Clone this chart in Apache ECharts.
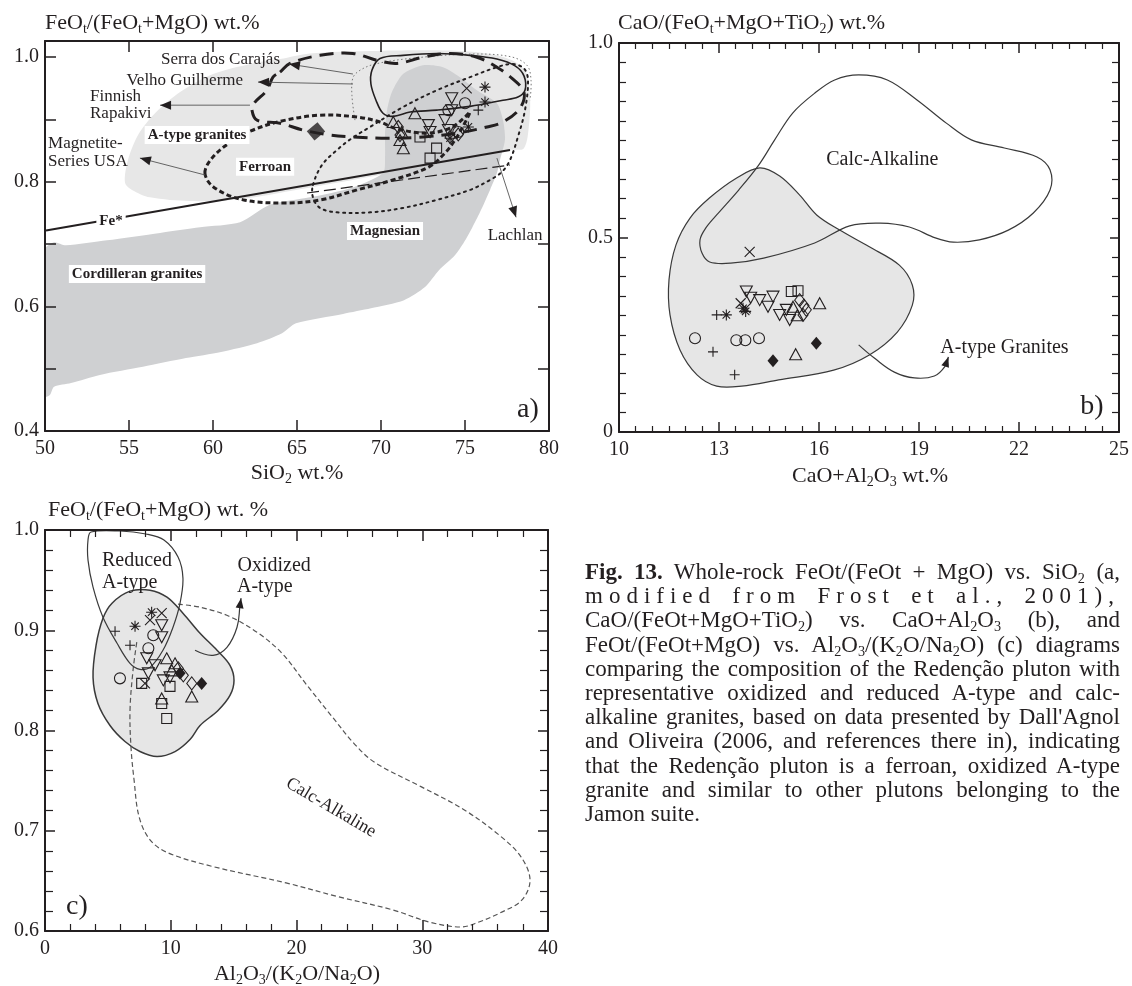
<!DOCTYPE html>
<html>
<head>
<meta charset="utf-8">
<title>Fig. 13</title>
<script src="https://cdn.jsdelivr.net/npm/echarts@6/dist/echarts.min.js"></script>
<style>
  html, body { margin: 0; padding: 0; background: #fff; }
  #chart { position: absolute; left: 0; top: 0; width: 1132px; height: 986px; }
  #caption { position: absolute; left: 585px; top: 560px; width: 535px;
    font-family: 'Liberation Serif', 'Times New Roman', serif; font-size: 23px;
    line-height: 24.2px; color: #231f20; }
  #caption .j { text-align: justify; text-align-last: justify; }
  #caption .wide { letter-spacing: 6px; }
  #caption sub { font-size: 0.62em; line-height: 0; vertical-align: -0.28em; }
</style>
</head>
<body>
<div id="chart"></div>
<div id="caption">
  <div class="j"><b>Fig. 13.</b> Whole-rock FeOt/(FeOt + MgO) vs. SiO<sub>2</sub> (a,</div>
  <div class="j wide">modified from Frost et al., 2001),</div>
  <div class="j">CaO/(FeOt+MgO+TiO<sub>2</sub>) vs. CaO+Al<sub>2</sub>O<sub>3</sub> (b), and</div>
  <div class="j">FeOt/(FeOt+MgO) vs. Al<sub>2</sub>O<sub>3</sub>/(K<sub>2</sub>O/Na<sub>2</sub>O) (c) diagrams</div>
  <div class="j">comparing the composition of the Redenção pluton with</div>
  <div class="j">representative oxidized and reduced A-type and calc-</div>
  <div class="j">alkaline granites, based on data presented by Dall'Agnol</div>
  <div class="j">and Oliveira (2006, and references there in), indicating</div>
  <div class="j">that the Redenção pluton is a ferroan, oxidized A-type</div>
  <div class="j">granite and similar to other plutons belonging to the</div>
  <div>Jamon suite.</div>
</div>
<script>
const FONT = "'Liberation Serif', 'Times New Roman', serif";
const INK = '#231f20';

// ---------- a) FeOt/(FeOt+MgO) vs SiO2 ----------
const aAtypeGranites = [[54.76,0.799],[54.94,0.835],[55.54,0.875],[56.55,0.910],[58.04,0.944],[60.00,0.973],[62.38,0.990],[63.99,0.997],[65.77,1.006],[69.35,1.010],[73.33,1.011],[76.31,1.006],[77.80,0.995],[78.63,0.976],[78.87,0.939],[78.81,0.891],[78.51,0.854],[77.68,0.851],[71.13,0.817],[65.18,0.788],[61.61,0.772],[58.63,0.769],[56.25,0.775],[55.18,0.787]];
const aCordilleran = [[50.06,0.695],[50.54,0.703],[51.25,0.698],[53.69,0.706],[56.85,0.718],[59.23,0.727],[61.61,0.735],[63.39,0.763],[65.77,0.775],[68.33,0.791],[70.12,0.814],[70.24,0.840],[70.24,0.878],[70.36,0.915],[70.65,0.944],[71.31,0.973],[72.50,0.987],[73.69,0.984],[74.70,0.968],[75.71,0.947],[76.90,0.926],[77.26,0.899],[77.38,0.868],[77.08,0.835],[76.90,0.814],[76.49,0.787],[75.89,0.751],[75.42,0.726],[74.94,0.703],[74.40,0.682],[73.45,0.658],[72.62,0.631],[71.37,0.610],[69.40,0.597],[67.74,0.588],[64.94,0.573],[64.11,0.557],[62.62,0.541],[60.48,0.527],[58.39,0.517],[55.83,0.503],[53.27,0.490],[51.55,0.477],[50.54,0.471],[50.30,0.458],[50.00,0.455],[50.00,0.690]];
const aFeStar = [[50.06,0.722],[77.68,0.851]];
const aFeStarLower = [[65.60,0.782],[77.68,0.827]];
const aVelhoGuilherme = [[63.99,0.976],[64.58,0.990],[66.37,1.003],[68.33,1.006],[69.76,0.995],[70.95,0.990],[72.50,1.000],[74.11,1.006],[75.71,1.000],[76.90,0.984],[77.80,0.966],[78.51,0.944],[78.27,0.918],[77.26,0.896],[76.31,0.888],[74.52,0.878],[72.50,0.872],[70.36,0.870],[68.33,0.872],[66.96,0.875],[65.36,0.883],[63.99,0.894],[62.62,0.899],[62.32,0.915],[62.44,0.926],[63.21,0.947],[63.57,0.968]];
const aCarajas = [[69.46,0.979],[69.94,0.998],[71.31,1.003],[73.33,1.006],[75.30,1.003],[76.90,0.997],[77.98,0.986],[78.51,0.970],[78.57,0.947],[78.15,0.936],[77.26,0.931],[75.30,0.921],[73.33,0.915],[71.73,0.912],[70.71,0.905],[70.12,0.910],[69.70,0.931],[69.40,0.957]];
const aCarajasOuter = [[68.45,0.899],[68.27,0.939],[68.33,0.967],[68.75,0.979],[69.64,0.989],[71.73,0.998],[75.30,1.005],[77.68,1.001],[78.69,0.987],[78.93,0.963],[78.87,0.931]];
const aLachlan = [[65.95,0.795],[66.49,0.827],[67.38,0.851],[68.27,0.870],[69.35,0.888],[71.31,0.920],[73.33,0.947],[75.30,0.968],[76.90,0.984],[77.80,0.989],[78.51,0.982],[78.75,0.963],[78.57,0.915],[78.15,0.872],[77.68,0.835],[77.20,0.816],[76.49,0.803],[75.30,0.787],[73.33,0.771],[71.31,0.758],[69.35,0.751],[67.38,0.751],[66.37,0.758],[65.95,0.775]];
const aMagnetiteSeries = [[59.52,0.814],[59.94,0.838],[60.95,0.862],[62.20,0.881],[63.99,0.897],[66.37,0.907],[68.57,0.904],[69.94,0.896],[70.83,0.886],[72.62,0.878],[74.11,0.886],[75.00,0.904],[75.30,0.912],[74.82,0.886],[74.40,0.867],[73.87,0.848],[72.86,0.824],[70.71,0.803],[68.57,0.787],[66.43,0.771],[64.35,0.766],[61.79,0.771],[60.06,0.791]];
const aLeaders = [
  [[68.33,0.973],[64.52,0.989]],
  [[68.33,0.957],[62.68,0.960]],
  [[62.20,0.923],[56.85,0.923]],
  [[59.52,0.811],[55.65,0.838]],
  [[76.90,0.838],[78.04,0.743]]
];
const aLabels = [
  ['Serra dos Carajás', 63.99, 0.997],
  ['Velho Guilherme', 61.79, 0.963],
  ['Finnish', 52.68, 0.937],
  ['Rapakivi', 52.68, 0.909],
  ['A-type granites', 59.05, 0.875],
  ['Magnetite-', 50.18, 0.862],
  ['Series USA', 50.18, 0.833],
  ['Fe*', 53.93, 0.737],
  ['Ferroan', 63.10, 0.824],
  ['Magnesian', 70.24, 0.721],
  ['Lachlan', 77.98, 0.713],
  ['Cordilleran granites', 55.48, 0.652],
  ['a)', 78.75, 0.435]
];
const aTriangleUp = [[70.73,0.896],[72.02,0.910],[71.23,0.880],[71.13,0.867],[71.33,0.854]];
const aTriangleDown = [[72.82,0.891],[72.92,0.880],[74.21,0.934],[74.21,0.915],[73.81,0.899],[74.01,0.883]];
const aSquare = [[72.32,0.872],[73.31,0.854],[72.92,0.838]];
const aCircle = [[74.01,0.915],[75.00,0.926],[74.60,0.880]];
const aDiamond = [[71.03,0.888],[71.13,0.875],[74.11,0.872],[74.60,0.876]];
const aCross = [[75.10,0.950]];
const aStar = [[76.19,0.952],[76.19,0.928],[75.20,0.888],[74.11,0.870]];
const aPlus = [[75.79,0.915]];
const aBlackDiamond = [[66.13,0.881]];

// ---------- b) CaO/(FeOt+MgO+TiO2) vs CaO+Al2O3 ----------
const bCalcAlkaline = [[17.19,0.918],[18.05,0.905],[18.95,0.853],[19.82,0.794],[20.57,0.751],[21.56,0.730],[22.54,0.707],[22.93,0.674],[22.93,0.622],[22.43,0.563],[21.68,0.519],[20.81,0.494],[20.03,0.488],[19.49,0.499],[18.71,0.527],[17.84,0.537],[16.92,0.530],[15.87,0.486],[14.34,0.447],[13.35,0.434],[12.72,0.437],[12.49,0.460],[12.43,0.494],[12.60,0.524],[12.93,0.558],[13.59,0.622],[14.19,0.686],[14.67,0.751],[15.21,0.820],[15.87,0.871],[16.47,0.905]];
const bAtypeGranites = [[14.22,0.679],[14.82,0.658],[15.42,0.609],[15.93,0.558],[16.62,0.519],[17.51,0.476],[18.41,0.429],[18.80,0.378],[18.80,0.326],[18.35,0.257],[17.51,0.198],[16.44,0.159],[14.79,0.134],[13.68,0.118],[12.93,0.118],[12.34,0.147],[11.83,0.211],[11.53,0.301],[11.50,0.391],[11.71,0.481],[12.13,0.550],[12.72,0.602],[13.53,0.653]];
const bArrow = [[17.19,0.224],[17.66,0.190],[18.26,0.154],[18.86,0.139],[19.46,0.144],[19.79,0.170],[19.88,0.193]];
const bLabels = [
  ['Calc-Alkaline', 17.90, 0.699],
  ['A-type Granites', 19.64, 0.216],
  ['b)', 24.19, 0.064]
];
const bCross = [[13.92,0.463],[13.65,0.331],[13.80,0.318]];
const bPlus = [[12.93,0.301],[12.82,0.206],[13.47,0.147]];
const bStar = [[13.22,0.301],[13.72,0.318],[13.80,0.310]];
const bCircle = [[12.28,0.241],[13.52,0.236],[13.79,0.236],[14.20,0.241]];
const bBlackDiamond = [[14.62,0.183],[15.92,0.228]];
const bTriangleUp = [[15.30,0.200],[16.02,0.331],[15.22,0.322],[15.35,0.300]];
const bTriangleDown = [[13.82,0.361],[14.22,0.339],[14.62,0.348],[14.47,0.322],[14.82,0.301],[15.12,0.288],[15.02,0.314],[13.95,0.345]];
const bSquare = [[15.17,0.361],[15.37,0.363]];
const bDiamond = [[15.52,0.301],[15.62,0.314],[15.42,0.339],[15.55,0.325]];

// ---------- c) FeOt/(FeOt+MgO) vs Al2O3/(K2O/Na2O) ----------
const cReducedAtype = [[3.66,0.998],[5.96,0.999],[8.03,0.996],[9.46,0.990],[10.58,0.973],[10.97,0.952],[10.74,0.927],[10.18,0.903],[9.38,0.880],[8.35,0.863],[7.55,0.861],[6.76,0.867],[5.73,0.887],[4.61,0.913],[3.82,0.943],[3.42,0.970],[3.42,0.990]];
const cOxidizedAtype = [[6.76,0.939],[8.35,0.940],[9.70,0.933],[10.97,0.917],[12.33,0.897],[13.68,0.880],[14.71,0.865],[15.03,0.850],[14.71,0.835],[13.76,0.820],[12.33,0.805],[11.53,0.791],[10.34,0.779],[8.91,0.774],[7.55,0.779],[6.36,0.789],[5.17,0.805],[4.21,0.827],[3.82,0.853],[4.06,0.885],[4.61,0.912],[5.33,0.927]];
const cCalcAlkaline = [[10.58,0.926],[12.33,0.923],[14.63,0.914],[16.86,0.898],[18.85,0.877],[20.84,0.845],[22.82,0.814],[24.65,0.786],[26.24,0.768],[29.90,0.744],[33.32,0.721],[36.18,0.695],[37.85,0.674],[38.57,0.651],[37.93,0.631],[36.18,0.618],[34.51,0.609],[33.08,0.604],[30.54,0.609],[27.67,0.621],[23.38,0.634],[19.17,0.648],[13.44,0.664],[9.78,0.678],[8.35,0.691],[7.48,0.714],[7.08,0.751],[6.84,0.783],[6.76,0.820],[7.00,0.860],[7.32,0.890]];
const cArrow = [[11.93,0.880],[13.36,0.875],[14.47,0.883],[15.27,0.903],[15.51,0.925],[15.59,0.932]];
const cLabels = [
  ['Reduced', 4.53, 0.969],
  ['A-type', 4.53, 0.947],
  ['Oxidized', 15.31, 0.964],
  ['A-type', 15.27, 0.943],
  ['Calc-Alkaline', 22.74, 0.723],
  ['c)', 2.54, 0.624]
];
const cStar = [[8.48,0.918],[7.16,0.904]];
const cCross = [[9.28,0.917],[7.95,0.847],[8.35,0.910]];
const cPlus = [[5.57,0.899],[6.76,0.885]];
const cCircle = [[8.61,0.895],[8.22,0.882],[5.96,0.852]];
const cTriangleDown = [[9.28,0.905],[9.28,0.893],[8.09,0.872],[8.22,0.857],[9.41,0.850],[9.94,0.853],[8.75,0.865]];
const cTriangleUp = [[9.68,0.872],[10.34,0.867],[9.28,0.832],[11.67,0.834],[10.08,0.860]];
const cSquare = [[7.69,0.847],[9.94,0.844],[9.28,0.827],[9.68,0.812]];
const cDiamond = [[11.00,0.855],[11.67,0.847],[10.60,0.862]];
const cBlackDiamond = [[10.74,0.857],[12.46,0.847]];

// ---------- drawing helpers ----------
function arrowHead(tip, from, len, half) {
  const dx = tip[0] - from[0], dy = tip[1] - from[1];
  const d = Math.hypot(dx, dy) || 1;
  const ux = dx / d, uy = dy / d;
  const bx = tip[0] - ux * len, by = tip[1] - uy * len;
  return [tip, [bx - uy * half, by + ux * half], [bx + uy * half, by - ux * half]];
}

function shape(grid, pts, o) {
  return {
    type: 'custom', coordinateSystem: 'cartesian2d',
    xAxisIndex: grid * 2, yAxisIndex: grid * 2,
    data: [pts[0]], clip: true, silent: true, z: o.z || 3,
    renderItem: function (params, api) {
      const p = pts.map(function (d) { return api.coord(d); });
      const body = {
        type: o.closed ? 'polygon' : 'polyline',
        shape: { points: p, smooth: o.smooth || 0 },
        style: {
          fill: o.fill || 'none', stroke: o.stroke || 'none',
          lineWidth: o.width || 1, lineDash: o.dash || null,
          lineCap: o.cap || 'butt', lineJoin: 'round'
        }
      };
      if (!o.arrow) return body;
      const tip = p[p.length - 1], prev = p[p.length - 2];
      return {
        type: 'group',
        children: [body, { type: 'polygon', shape: { points: arrowHead(tip, prev, o.arrow[0], o.arrow[1]) }, style: { fill: INK } }]
      };
    }
  };
}

function labelSeries(grid, items, styleOf) {
  return {
    type: 'custom', coordinateSystem: 'cartesian2d',
    xAxisIndex: grid * 2, yAxisIndex: grid * 2,
    data: items.map(function (it) { return [it[1], it[2]]; }),
    silent: true, z: 6,
    renderItem: function (params, api) {
      const it = items[params.dataIndex];
      const s = styleOf(it[0]);
      const p = api.coord([it[1], it[2]]);
      return {
        type: 'text', x: p[0], y: p[1], rotation: s.rotation || 0,
        style: {
          text: it[0], fill: INK, fontFamily: FONT, fontSize: s.size,
          fontWeight: s.bold ? 'bold' : 'normal',
          align: s.align || 'center', verticalAlign: 'middle',
          backgroundColor: s.box ? '#ffffff' : 'transparent',
          padding: s.box ? [2, 3, 1, 3] : 0
        }
      };
    }
  };
}

const MARK = {
  circle: { symbol: 'circle', size: 11 },
  square: { symbol: 'rect', size: 10 },
  triUp: { symbol: 'triangle', size: [12, 11] },
  triDown: { symbol: 'triangle', size: [12, 11], rotate: 180 },
  diamond: { symbol: 'diamond', size: [10, 13] },
  solidDiamond: { symbol: 'diamond', size: [11, 13], solid: true },
  plus: { symbol: 'path://M5,0L5,10M0,5L10,5', size: 10 },
  cross: { symbol: 'path://M0,0L10,10M10,0L0,10', size: 10 },
  star: { symbol: 'path://M5,0L5,10M0,5L10,5M1.6,1.6L8.4,8.4M8.4,1.6L1.6,8.4', size: 11 }
};

function points(grid, data, kind) {
  const m = MARK[kind];
  return {
    type: 'scatter', xAxisIndex: grid * 2, yAxisIndex: grid * 2,
    data: data, symbol: m.symbol, symbolSize: m.size, symbolRotate: m.rotate || 0,
    silent: true, z: 8,
    itemStyle: {
      color: m.solid ? INK : 'rgba(255,255,255,0)',
      borderColor: INK, borderWidth: m.solid ? 0 : 1.1, opacity: 1
    }
  };
}

function axisPair(grid, dir, cfg) {
  const base = {
    gridIndex: grid, type: 'value', min: cfg.min, max: cfg.max, interval: cfg.interval, z: 10,
    axisLine: { onZero: false, lineStyle: { color: INK, width: 2 } },
    axisTick: { inside: true, length: cfg.tick, lineStyle: { color: INK, width: 1.5 } },
    minorTick: cfg.minor
      ? { show: true, splitNumber: cfg.minor, length: cfg.minorLen, lineStyle: { color: INK, width: 1.2 } }
      : { show: false },
    splitLine: { show: false }, minorSplitLine: { show: false }
  };
  const first = Object.assign({}, base, {
    position: dir === 'x' ? 'bottom' : 'left',
    axisLabel: { fontFamily: FONT, fontSize: 20, color: INK, margin: dir === 'x' ? 8 : 6, formatter: cfg.fmt }
  });
  const second = Object.assign({}, base, {
    position: dir === 'x' ? 'top' : 'right',
    axisLabel: { show: false }
  });
  return [first, second];
}

function evenTenths(v) {
  const k = Math.round(v * 10);
  return (Math.abs(v * 10 - k) < 1e-6 && k % 2 === 0) ? (k / 10).toFixed(1) : '';
}

// ---------- label styles ----------
function aStyle(t) {
  const bold = { 'A-type granites': 1, 'Fe*': 1, 'Ferroan': 1, 'Magnesian': 1, 'Cordilleran granites': 1 };
  if (t === 'a)') return { size: 28 };
  if (bold[t]) return { size: 15, bold: true, box: true };
  if (t === 'Serra dos Carajás' || t === 'Velho Guilherme') return { size: 17, align: 'right' };
  if (t === 'Lachlan') return { size: 17 };
  return { size: 17, align: 'left' };
}
function bStyle(t) {
  if (t === 'b)') return { size: 28 };
  if (t === 'A-type Granites') return { size: 20, align: 'left' };
  return { size: 20 };
}
function cStyle(t) {
  if (t === 'c)') return { size: 28 };
  if (t === 'Calc-Alkaline') return { size: 18, rotation: -0.53 };
  return { size: 20, align: 'left' };
}

// ---------- series ----------
const series = [
  // a
  shape(0, aAtypeGranites, { closed: true, fill: '#e7e7e7', smooth: 0.3, z: 1 }),
  shape(0, aCordilleran, { closed: true, fill: '#cfd0d2', smooth: 0.25, z: 2 }),
  shape(0, aLachlan, { closed: true, stroke: INK, width: 2, dash: [2, 4.5], cap: 'round', smooth: 0.35 }),
  shape(0, aCarajasOuter, { stroke: '#777', width: 1, dash: [1.5, 2.5], smooth: 0.35 }),
  shape(0, aCarajas, { closed: true, stroke: INK, width: 1.6, smooth: 0.35 }),
  shape(0, aVelhoGuilherme, { closed: true, stroke: INK, width: 3, dash: [14, 8], smooth: 0.35 }),
  shape(0, aMagnetiteSeries, { closed: true, stroke: INK, width: 3, dash: [5, 3], smooth: 0.35 }),
  shape(0, aFeStar, { stroke: INK, width: 2 }),
  shape(0, aFeStarLower, { stroke: INK, width: 1.2, dash: [12, 5] })
].concat(aLeaders.map(function (l) {
  return shape(0, l, { stroke: '#555', width: 0.9, arrow: [11, 4.5], z: 4 });
})).concat([
  labelSeries(0, aLabels, aStyle),
  points(0, aTriangleUp, 'triUp'),
  points(0, aTriangleDown, 'triDown'),
  points(0, aSquare, 'square'),
  points(0, aCircle, 'circle'),
  points(0, aDiamond, 'diamond'),
  points(0, aCross, 'cross'),
  points(0, aStar, 'star'),
  points(0, aPlus, 'plus'),
  {
    type: 'scatter', xAxisIndex: 0, yAxisIndex: 0, data: aBlackDiamond,
    symbol: 'rect', symbolSize: [14, 12], symbolRotate: 40, silent: true, z: 8,
    itemStyle: { color: INK }
  },

  // b
  shape(1, bAtypeGranites, { closed: true, fill: '#e6e6e6', stroke: '#3a3a3a', width: 1.2, smooth: 0.35, z: 1 }),
  shape(1, bCalcAlkaline, { closed: true, stroke: '#3a3a3a', width: 1.2, smooth: 0.35, z: 2 }),
  shape(1, bArrow, { stroke: '#3a3a3a', width: 1.2, smooth: 0.4, arrow: [10, 4] }),
  labelSeries(1, bLabels, bStyle),
  points(1, bCross, 'cross'),
  points(1, bPlus, 'plus'),
  points(1, bStar, 'star'),
  points(1, bCircle, 'circle'),
  points(1, bBlackDiamond, 'solidDiamond'),
  points(1, bTriangleUp, 'triUp'),
  points(1, bTriangleDown, 'triDown'),
  points(1, bSquare, 'square'),
  points(1, bDiamond, 'diamond'),

  // c
  shape(2, cOxidizedAtype, { closed: true, fill: '#e6e6e6', stroke: '#3a3a3a', width: 1.5, smooth: 0.35, z: 1 }),
  shape(2, cCalcAlkaline, { stroke: '#555', width: 1.2, dash: [5, 3], smooth: 0.35, z: 2 }),
  shape(2, cReducedAtype, { closed: true, stroke: '#3a3a3a', width: 1.2, smooth: 0.35, z: 3 }),
  shape(2, cArrow, { stroke: '#3a3a3a', width: 1.2, smooth: 0.4, arrow: [10, 4] }),
  labelSeries(2, cLabels, cStyle),
  points(2, cStar, 'star'),
  points(2, cCross, 'cross'),
  points(2, cPlus, 'plus'),
  points(2, cCircle, 'circle'),
  points(2, cTriangleDown, 'triDown'),
  points(2, cTriangleUp, 'triUp'),
  points(2, cSquare, 'square'),
  points(2, cDiamond, 'diamond'),
  points(2, cBlackDiamond, 'solidDiamond')
]);

// ---------- axis titles ----------
const RICH = {
  n: { fontFamily: FONT, fontSize: 22, fill: INK, color: INK, lineHeight: 26 },
  s: { fontFamily: FONT, fontSize: 14, fill: INK, color: INK, lineHeight: 14, verticalAlign: 'bottom' }
};
function heading(text, x, y, align) {
  return {
    type: 'text', x: x, y: y, z: 20, silent: true,
    style: { text: text, rich: RICH, align: align, verticalAlign: 'middle', fill: INK, fontFamily: FONT, fontSize: 22 }
  };
}

const option = {
  animation: false,
  backgroundColor: '#ffffff',
  grid: [
    { left: 45, top: 41, width: 504, height: 390 },
    { left: 619, top: 43, width: 501, height: 389 },
    { left: 45, top: 530, width: 503, height: 401 }
  ],
  xAxis: []
    .concat(axisPair(0, 'x', { min: 50, max: 80, interval: 5, tick: 11 }))
    .concat(axisPair(1, 'x', { min: 10, max: 25, interval: 3, tick: 10, minor: 6, minorLen: 6 }))
    .concat(axisPair(2, 'x', { min: 0, max: 40, interval: 10, tick: 11, minor: 5, minorLen: 7 })),
  yAxis: []
    .concat(axisPair(0, 'y', { min: 0.4, max: 1.026, interval: 0.1, tick: 11, fmt: evenTenths }))
    .concat(axisPair(1, 'y', { min: 0, max: 1, interval: 0.5, tick: 9, minor: 10, minorLen: 7,
      fmt: function (v) { return v === 0 ? '0' : v.toFixed(1); } }))
    .concat(axisPair(2, 'y', { min: 0.6, max: 1.0, interval: 0.1, tick: 10, minor: 5, minorLen: 8,
      fmt: function (v) { return v.toFixed(1); } })),
  graphic: [
    heading('{n|FeO}{s|t}{n|/(FeO}{s|t}{n|+MgO) wt.%}', 45, 23, 'left'),
    heading('{n|CaO/(FeO}{s|t}{n|+MgO+TiO}{s|2}{n|) wt.%}', 618, 23, 'left'),
    heading('{n|FeO}{s|t}{n|/(FeO}{s|t}{n|+MgO) wt. %}', 48, 510, 'left'),
    heading('{n|SiO}{s|2}{n| wt.%}', 297, 473, 'center'),
    heading('{n|CaO+Al}{s|2}{n|O}{s|3}{n| wt.%}', 870, 476, 'center'),
    heading('{n|Al}{s|2}{n|O}{s|3}{n|/(K}{s|2}{n|O/Na}{s|2}{n|O)}', 297, 974, 'center')
  ],
  series: series
};

const chart = echarts.init(document.getElementById('chart'), null, { renderer: 'canvas' });
chart.setOption(option);
</script>
</body>
</html>
